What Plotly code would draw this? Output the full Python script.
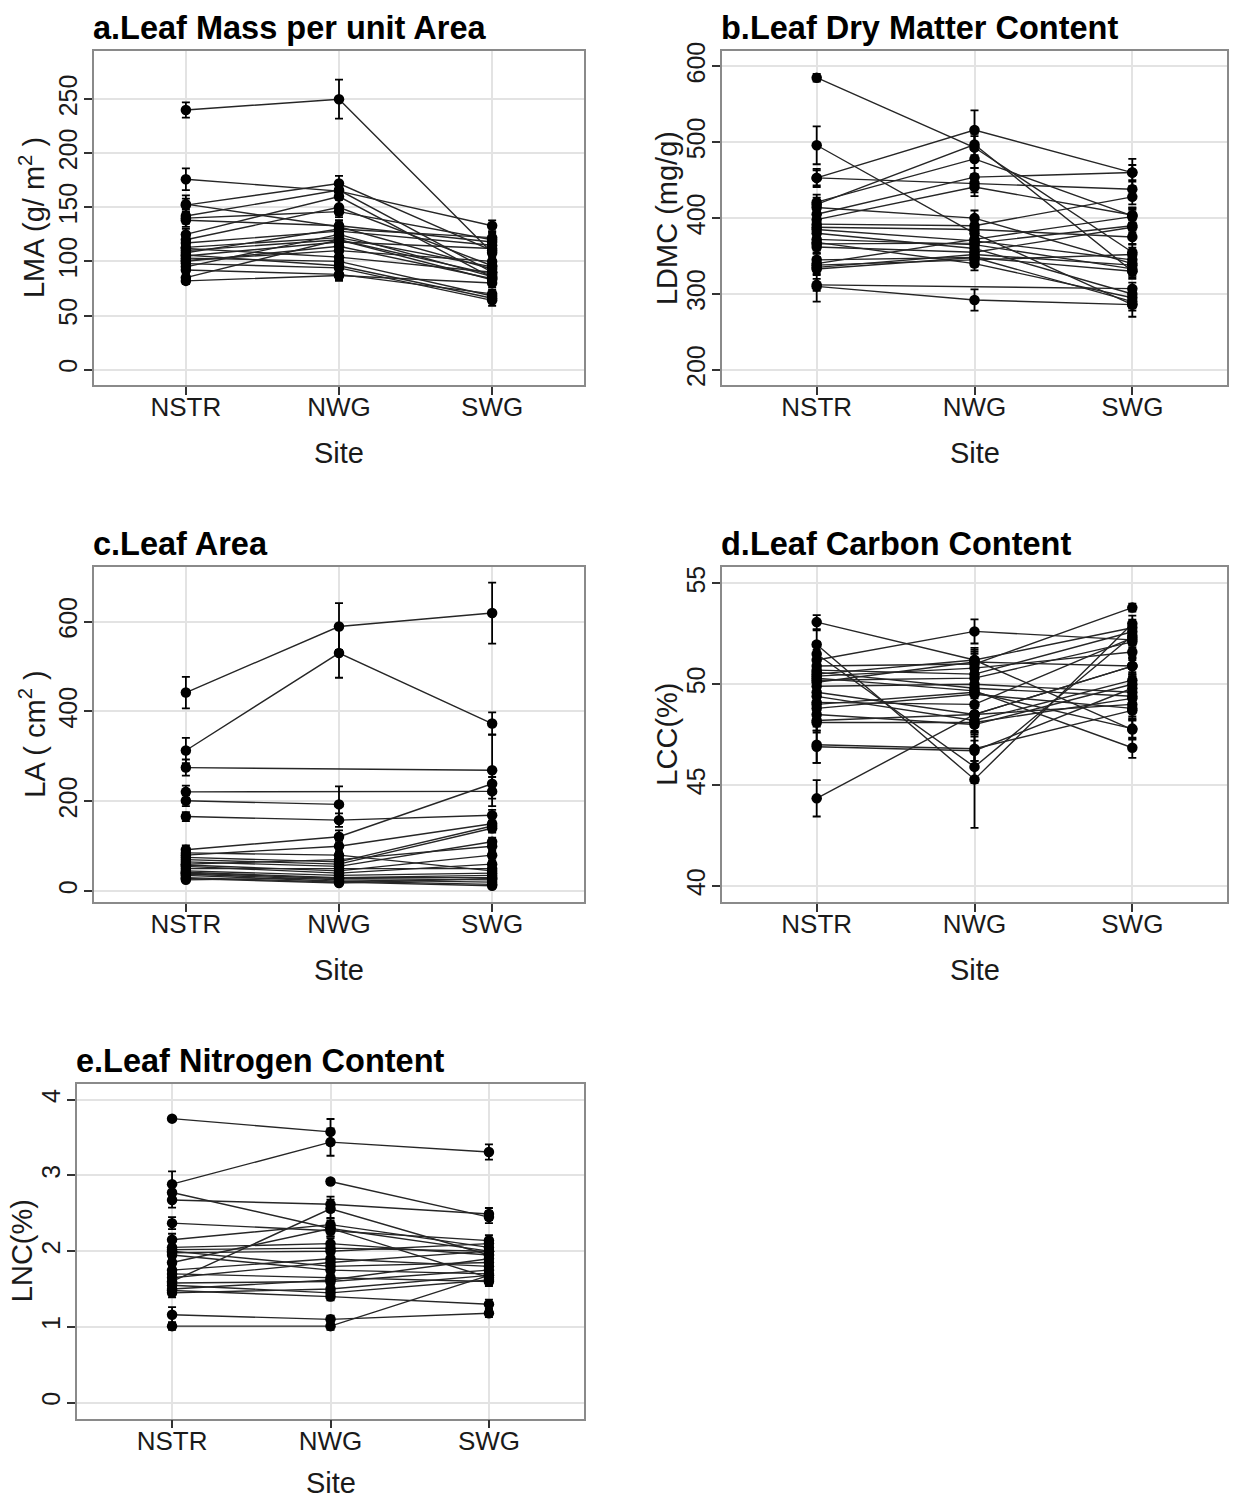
import plotly.graph_objects as go

W, H = 1233, 1502
sites = ["NSTR", "NWG", "SWG"]

# ---------------- data (species means and SE at NSTR, NWG, SWG) ----------------
lma_means = [
    [240, 250, 108], [176, 165, 133], [153, 132, 93], [152, 172, 110],
    [142, 166, 90], [140, 146, 120], [138, 133, 118], [125, 160, 85],
    [117, 128, 115], [113, 122, 95], [112, 104, 90], [110, 120, 88],
    [108, 130, 122], [106, 96, 66], [105, 118, 112], [103, 100, 68],
    [101, 110, 100], [98, 94, 64], [95, 125, 86], [92, 88, 70],
    [85, 120, 83], [82, 87, 80], [120, 150, 96], [100, 114, 84],
]
lma_ses = [
    [7, 18, 8], [10, 5, 5], [8, 6, 5], [6, 7, 6],
    [6, 6, 5], [5, 5, 6], [6, 5, 5], [5, 8, 5],
    [6, 6, 5], [5, 5, 5], [5, 5, 5], [4, 6, 5],
    [5, 6, 5], [4, 5, 4], [5, 5, 5], [4, 4, 4],
    [5, 5, 5], [4, 5, 5], [5, 6, 5], [4, 5, 4],
    [4, 6, 5], [3, 5, 4], [5, 7, 5], [4, 5, 5],
]

ldmc_means = [
    [585, 493, 355], [496, 380, 286], [453, 516, 460], [453, 446, 438],
    [421, 478, 403], [418, 497, 330], [414, 400, 340], [405, 454, 460],
    [398, 441, 404], [392, 390, 428], [388, 385, 375], [385, 370, 345],
    [380, 360, 300], [372, 365, 333], [366, 367, 390], [362, 355, 388],
    [345, 348, 330], [340, 372, 402], [338, 345, 352], [335, 352, 338],
    [333, 348, 290], [312, None, 307], [310, 292, 286], [368, 340, 295],
]
ldmc_ses = [
    [5, 15, 10], [25, 12, 8], [12, 26, 18], [10, 12, 10],
    [10, 12, 10], [9, 14, 10], [9, 10, 9], [9, 12, 10],
    [9, 12, 10], [9, 10, 10], [9, 10, 9], [9, 10, 9],
    [8, 10, 8], [8, 10, 9], [9, 10, 9], [8, 10, 9],
    [8, 9, 8], [9, 10, 9], [8, 9, 9], [8, 9, 8],
    [8, 9, 9], [8, 0, 8], [20, 14, 16], [8, 9, 8],
]

la_means = [
    [442, 589, 619], [313, 530, 373], [275, None, 269], [221, None, 222],
    [201, 193, None], [166, 158, 169], [92, 121, 239], [80, 100, 150],
    [75, 65, 145], [70, 60, 140], [65, 55, 110], [60, 70, 100],
    [58, 45, 80], [55, 40, 60], [50, 50, 50], [45, 35, 40],
    [42, 30, 30], [40, 28, 25], [38, 25, 20], [35, 22, 15],
    [30, 20, 12], [28, 18, 28], [25, 30, 35], [85, 80, 45],
]
la_ses = [
    [35, 52, 68], [28, 55, 25], [18, 0, 80], [14, 0, 16],
    [12, 40, 0], [10, 15, 12], [10, 14, 15], [12, 12, 14],
    [8, 8, 12], [8, 8, 10], [7, 7, 9], [7, 8, 9],
    [6, 6, 8], [6, 6, 7], [6, 6, 6], [5, 5, 5],
    [5, 5, 5], [5, 4, 4], [4, 4, 4], [4, 4, 3],
    [4, 3, 3], [4, 3, 4], [4, 4, 5], [9, 9, 6],
]

lcc_means = [
    [53.08, 51.2, 47.75], [51.97, 45.28, 53.0], [51.5, 45.9, 52.4], [44.34, 48.5, 50.9],
    [51.2, 52.62, 52.2], [50.9, 51.0, 53.8], [50.7, 50.5, 52.6], [50.5, 51.2, 52.8],
    [50.4, 50.8, 51.6], [50.3, 49.67, 46.85], [50.1, 51.1, 50.9], [49.9, 50.0, 49.6],
    [49.6, 48.5, 50.9], [49.4, 48.2, 50.2], [49.1, 49.0, 52.3], [48.8, 49.5, 48.8],
    [48.5, 48.0, 50.0], [48.1, 48.1, 49.3], [48.2, 48.5, 49.0], [47.0, 46.8, 48.7],
    [46.9, 46.7, 49.8], [50.6, 49.8, 49.4], [50.2, 50.3, 52.1], [49.0, 49.6, 47.8],
]
lcc_ses = [
    [0.35, 0.6, 0.5], [0.7, 2.4, 0.4], [0.6, 0.8, 0.4], [0.9, 0.6, 0.5],
    [0.5, 0.6, 0.4], [0.5, 0.5, 0.2], [0.5, 0.5, 0.4], [0.5, 0.5, 0.4],
    [0.5, 0.5, 0.4], [0.5, 0.6, 0.5], [0.5, 0.5, 0.4], [0.5, 0.5, 0.4],
    [0.5, 0.6, 0.4], [0.5, 0.6, 0.4], [0.5, 0.5, 0.4], [0.5, 0.5, 0.4],
    [0.5, 0.5, 0.4], [0.5, 0.5, 0.4], [0.5, 0.5, 0.4], [0.9, 0.6, 0.5],
    [0.8, 0.5, 0.4], [0.5, 0.5, 0.4], [0.5, 0.5, 0.4], [0.5, 0.5, 0.5],
]

lnc_means = [
    [3.75, 3.575, None], [2.885, 3.44, 3.31], [None, 2.92, 2.45], [2.675, 2.62, 2.49],
    [2.775, 2.30, 2.00], [2.37, 2.27, 2.14], [2.15, 2.35, 2.05], [2.05, 2.10, 1.95],
    [2.00, 1.80, 1.85], [1.98, 2.00, 2.10], [1.95, 1.75, 1.70], [1.85, 2.30, 1.65],
    [1.75, 1.90, 1.80], [1.65, 1.85, 2.00], [1.60, 2.56, 1.95], [1.58, 1.60, 1.75],
    [1.55, 1.45, 1.62], [1.50, 1.62, 1.90], [1.48, 1.40, 1.30], [1.45, 1.50, 1.68],
    [1.16, 1.10, 1.18], [1.01, 1.01, 1.68], [2.02, 2.04, 2.00], [1.70, 1.65, 1.60],
]
lnc_ses = [
    [0.02, 0.17, 0], [0.17, 0.18, 0.1], [0, 0.03, 0.08], [0.1, 0.1, 0.08],
    [0.12, 0.1, 0.08], [0.08, 0.08, 0.07], [0.08, 0.08, 0.06], [0.07, 0.07, 0.06],
    [0.07, 0.07, 0.06], [0.07, 0.07, 0.06], [0.06, 0.06, 0.06], [0.06, 0.07, 0.06],
    [0.06, 0.06, 0.06], [0.06, 0.06, 0.06], [0.06, 0.12, 0.06], [0.06, 0.06, 0.06],
    [0.06, 0.06, 0.06], [0.06, 0.06, 0.06], [0.06, 0.05, 0.06], [0.06, 0.06, 0.06],
    [0.1, 0.05, 0.05], [0.05, 0.05, 0.05], [0.06, 0.06, 0.06], [0.06, 0.06, 0.06],
]

panel_titles = ["a.Leaf Mass per unit Area", "b.Leaf Dry Matter Content", "c.Leaf Area",
                "d.Leaf Carbon Content", "e.Leaf Nitrogen Content"]
y_titles = ["LMA (g/ m<sup>2</sup> )", "LDMC (mg/g)", "LA ( cm<sup>2</sup> )", "LCC(%)", "LNC(%)"]
y_ticks = [[0, 50, 100, 150, 200, 250], [200, 300, 400, 500, 600], [0, 200, 400, 600],
           [40, 45, 50, 55], [0, 1, 2, 3, 4]]
y_ranges = [[-14.7, 294.8], [179.4, 620.6], [-24.3, 721], [39.2, 55.8], [-0.21, 4.21]]

# ---------------- layout geometry (pixels) ----------------
boxes = [  # left, right, top, bottom
    (94, 584, 42, 379), (722, 1227, 42, 379),
    (94, 584, 562, 899), (722, 1227, 562, 899),
    (77, 584, 1082, 1419),
]
ytitle_off = [62, 55, 62, 55, 55]

FONT = "Liberation Sans, Arial, Helvetica, sans-serif"
TXT = "#1a1a1a"

fig = go.Figure()
datasets = [(lma_means, lma_ses), (ldmc_means, ldmc_ses), (la_means, la_ses),
            (lcc_means, lcc_ses), (lnc_means, lnc_ses)]

for p, (means, ses) in enumerate(datasets):
    suffix = "" if p == 0 else str(p + 1)
    for m, s in zip(means, ses):
        xs, ys, es = [], [], []
        for j in range(3):
            if m[j] is not None:
                xs.append(j + 1)
                ys.append(m[j])
                es.append(s[j])
        fig.add_trace(go.Scatter(
            x=xs, y=ys, mode="lines+markers",
            line=dict(color="#262626", width=1.4),
            marker=dict(color="black", size=10.5, symbol="circle"),
            error_y=dict(type="data", array=es, visible=True, color="black",
                         thickness=1.8, width=4),
            xaxis="x" + suffix, yaxis="y" + suffix,
            showlegend=False, hoverinfo="skip"))

layout = dict(
    width=W, height=H, margin=dict(l=0, r=0, t=0, b=0),
    paper_bgcolor="white", plot_bgcolor="white",
    font=dict(family=FONT, color=TXT), showlegend=False,
)
annotations = []
for p in range(5):
    l, r, t, b = boxes[p]
    suffix = "" if p == 0 else str(p + 1)
    xd = [l / W, r / W]
    yd = [1 - b / H, 1 - t / H]
    layout["xaxis" + suffix] = dict(
        domain=xd, anchor="y" + suffix, range=[0.4, 3.6],
        tickmode="array", tickvals=[1, 2, 3], ticktext=sites,
        showgrid=True, gridcolor="#e3e3e3", gridwidth=1.5,
        zeroline=False, showline=True, linecolor="#8a8a8a", linewidth=1.5, mirror=True,
        ticks="outside", ticklen=8, tickwidth=1.5, tickcolor="#333333",
        ticklabelstandoff=-10,
        tickfont=dict(size=26, color=TXT, family=FONT), fixedrange=True,
    )
    layout["yaxis" + suffix] = dict(
        domain=yd, anchor="x" + suffix, range=y_ranges[p],
        tickmode="array", tickvals=y_ticks[p],
        showgrid=True, gridcolor="#e3e3e3", gridwidth=1.5,
        zeroline=False, showline=True, linecolor="#8a8a8a", linewidth=1.5, mirror=True,
        ticks="outside", ticklen=8, tickwidth=1.5, tickcolor="#333333",
        ticklabelstandoff=-3,
        tickangle=-90, tickfont=dict(size=25, color=TXT, family=FONT), fixedrange=True,
    )
    # panel title
    annotations.append(dict(
        text="<b>" + panel_titles[p] + "</b>", xref="paper", yref="paper",
        x=(l - 3) / W, y=1 - (t - 23) / H, xanchor="left", yanchor="middle",
        showarrow=False, font=dict(size=32.5, color="black", family=FONT)))
    # x-axis title
    if p == 4:
        site_y, site_anchor = 0.0, "bottom"
    else:
        site_y, site_anchor = 1 - (b + 68) / H, "middle"
    annotations.append(dict(
        text="Site", xref="paper", yref="paper",
        x=((l + r) / 2) / W, y=site_y, xanchor="center", yanchor=site_anchor,
        showarrow=False, font=dict(size=29, color=TXT, family=FONT)))
    # y-axis title
    annotations.append(dict(
        text=y_titles[p], xref="paper", yref="paper", textangle=-90,
        x=(l - ytitle_off[p]) / W, y=1 - ((t + b) / 2) / H, xanchor="center", yanchor="middle",
        showarrow=False, font=dict(size=29, color=TXT, family=FONT)))

layout["annotations"] = annotations
fig.update_layout(**layout)
fig.write_html("out.html", config={"displayModeBar": False},
               post_script="document.body.style.margin='0';document.body.style.padding='0';")
